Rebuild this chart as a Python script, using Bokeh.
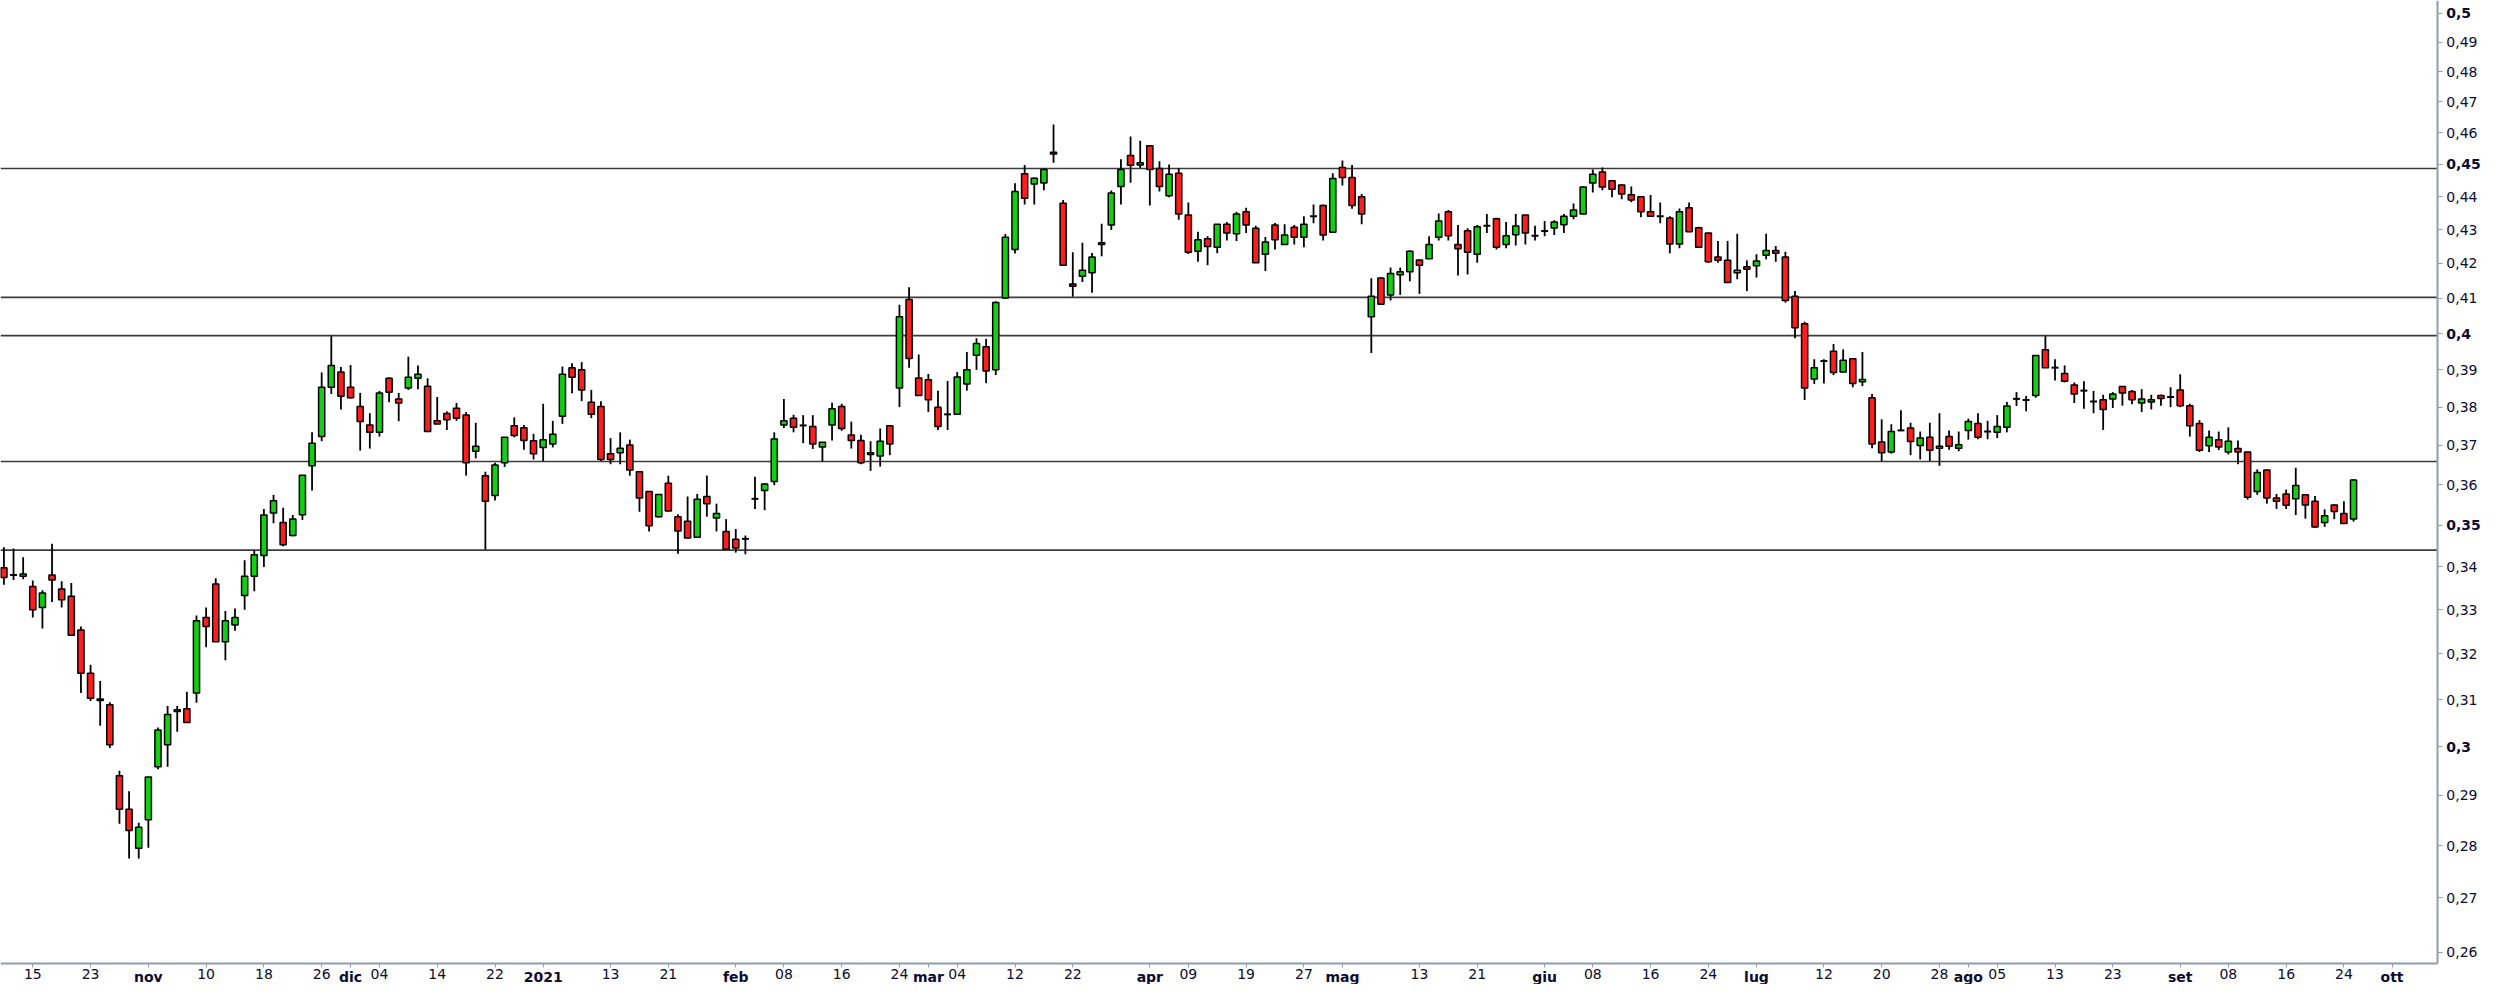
import numpy as np
import pandas as pd
from bokeh.plotting import figure
from bokeh.models import Range1d, FixedTicker, LinearAxis, LogAxis
from bokeh.embed import file_html
from bokeh.resources import INLINE

# ---------------- data ----------------
holidays = ["2020-12-24", "2020-12-25", "2020-12-31", "2021-01-01", "2021-04-02", "2021-04-05"]
trading_days = [d.strftime("%Y-%m-%d") for d in pd.bdate_range("2020-10-12", "2021-10-01")
                if d.strftime("%Y-%m-%d") not in holidays]

open_ = [
    0.3398, 0.3381, 0.3378, 0.3354, 0.3305, 0.3381, 0.3348, 0.3331, 0.3254, 0.3157,
    0.3098, 0.3089, 0.2940, 0.2872, 0.2795, 0.2851, 0.2958, 0.3004, 0.3074, 0.3080,
    0.3114, 0.3282, 0.3360, 0.3227, 0.3265, 0.3333, 0.3378, 0.3427, 0.3530, 0.3507,
    0.3475, 0.3526, 0.3648, 0.3723, 0.3853, 0.3894, 0.3853, 0.3802, 0.3753, 0.3734,
    0.3877, 0.3822, 0.3851, 0.3877, 0.3856, 0.3764, 0.3783, 0.3797, 0.3779, 0.3685,
    0.3623, 0.3573, 0.3656, 0.3751, 0.3746, 0.3712, 0.3695, 0.3704, 0.3776, 0.3906,
    0.3900, 0.3813, 0.3802, 0.3679, 0.3681, 0.3701, 0.3633, 0.3583, 0.3521, 0.3604,
    0.3521, 0.3510, 0.3471, 0.3571, 0.3518, 0.3485, 0.3466, 0.3467, 0.3565, 0.3586,
    0.3608, 0.3753, 0.3771, 0.3752, 0.3749, 0.3696, 0.3753, 0.3802, 0.3727, 0.3713,
    0.3677, 0.3673, 0.3751, 0.3851, 0.4096, 0.3878, 0.3873, 0.3800, 0.3781, 0.3781,
    0.3862, 0.3940, 0.3963, 0.3900, 0.4100, 0.4241, 0.4471, 0.4439, 0.4442, 0.4538,
    0.4380, 0.4140, 0.4163, 0.4173, 0.4256, 0.4314, 0.4431, 0.4528, 0.4498, 0.4559,
    0.4487, 0.4403, 0.4472, 0.4344, 0.4236, 0.4273, 0.4248, 0.4316, 0.4288, 0.4354,
    0.4304, 0.4227, 0.4314, 0.4256, 0.4307, 0.4277, 0.4340, 0.4373, 0.4292, 0.4490,
    0.4459, 0.4400, 0.4047, 0.4158, 0.4109, 0.4167, 0.4176, 0.4210, 0.4214, 0.4277,
    0.4354, 0.4256, 0.4297, 0.4227, 0.4312, 0.4333, 0.4256, 0.4285, 0.4344, 0.4282,
    0.4296, 0.4305, 0.4315, 0.4340, 0.4347, 0.4442, 0.4476, 0.4449, 0.4436, 0.4406,
    0.4400, 0.4354, 0.4340, 0.4335, 0.4257, 0.4366, 0.4306, 0.4290, 0.4219, 0.4209,
    0.4173, 0.4190, 0.4193, 0.4224, 0.4238, 0.4219, 0.4105, 0.4027, 0.3875, 0.3924,
    0.3951, 0.3894, 0.3930, 0.3868, 0.3825, 0.3709, 0.3683, 0.3739, 0.3745, 0.3700,
    0.3721, 0.3693, 0.3723, 0.3693, 0.3739, 0.3757, 0.3736, 0.3734, 0.3747, 0.3822,
    0.3819, 0.3831, 0.3955, 0.3906, 0.3890, 0.3859, 0.3844, 0.3815, 0.3820, 0.3822,
    0.3855, 0.3842, 0.3811, 0.3814, 0.3831, 0.3827, 0.3846, 0.3804, 0.3757, 0.3699,
    0.3715, 0.3683, 0.3692, 0.3683, 0.3583, 0.3637, 0.3567, 0.3577, 0.3565, 0.3575,
    0.3559, 0.3507, 0.3550, 0.3529, 0.3515,
]
high = [
    0.3447, 0.3444, 0.3423, 0.3368, 0.3345, 0.3455, 0.3366, 0.3362, 0.3262, 0.3176,
    0.3140, 0.3094, 0.2950, 0.2908, 0.2845, 0.2937, 0.3040, 0.3086, 0.3086, 0.3117,
    0.3287, 0.3305, 0.3373, 0.3297, 0.3303, 0.3416, 0.3439, 0.3540, 0.3575, 0.3543,
    0.3525, 0.3624, 0.3734, 0.3893, 0.3994, 0.3908, 0.3913, 0.3838, 0.3784, 0.3843,
    0.3880, 0.3838, 0.3936, 0.3912, 0.3877, 0.3827, 0.3789, 0.3811, 0.3787, 0.3759,
    0.3633, 0.3656, 0.3722, 0.3773, 0.3753, 0.3730, 0.3809, 0.3764, 0.3909, 0.3918,
    0.3921, 0.3846, 0.3816, 0.3719, 0.3734, 0.3715, 0.3634, 0.3584, 0.3577, 0.3623,
    0.3527, 0.3571, 0.3577, 0.3623, 0.3553, 0.3515, 0.3491, 0.3475, 0.3620, 0.3604,
    0.3734, 0.3822, 0.3780, 0.3779, 0.3779, 0.3709, 0.3812, 0.3809, 0.3762, 0.3728,
    0.3711, 0.3744, 0.3753, 0.4081, 0.4131, 0.3942, 0.3889, 0.3844, 0.3870, 0.3894,
    0.3949, 0.3987, 0.3985, 0.4091, 0.4287, 0.4441, 0.4498, 0.4459, 0.4487, 0.4627,
    0.4390, 0.4233, 0.4261, 0.4231, 0.4318, 0.4419, 0.4516, 0.4588, 0.4575, 0.4560,
    0.4510, 0.4500, 0.4489, 0.4382, 0.4294, 0.4280, 0.4317, 0.4323, 0.4354, 0.4366,
    0.4312, 0.4278, 0.4320, 0.4316, 0.4314, 0.4340, 0.4376, 0.4376, 0.4472, 0.4512,
    0.4498, 0.4408, 0.4157, 0.4159, 0.4188, 0.4188, 0.4239, 0.4211, 0.4280, 0.4349,
    0.4359, 0.4314, 0.4304, 0.4314, 0.4347, 0.4336, 0.4323, 0.4347, 0.4345, 0.4312,
    0.4326, 0.4328, 0.4347, 0.4379, 0.4431, 0.4484, 0.4490, 0.4450, 0.4437, 0.4431,
    0.4401, 0.4405, 0.4382, 0.4340, 0.4364, 0.4382, 0.4309, 0.4291, 0.4266, 0.4266,
    0.4288, 0.4209, 0.4227, 0.4288, 0.4251, 0.4234, 0.4120, 0.4033, 0.3929, 0.3929,
    0.3971, 0.3956, 0.3931, 0.3949, 0.3835, 0.3768, 0.3755, 0.3792, 0.3759, 0.3736,
    0.3759, 0.3784, 0.3739, 0.3736, 0.3770, 0.3784, 0.3764, 0.3779, 0.3814, 0.3840,
    0.3830, 0.3940, 0.3994, 0.3929, 0.3912, 0.3866, 0.3869, 0.3843, 0.3833, 0.3840,
    0.3856, 0.3846, 0.3848, 0.3833, 0.3833, 0.3853, 0.3888, 0.3809, 0.3766, 0.3739,
    0.3736, 0.3747, 0.3713, 0.3684, 0.3639, 0.3638, 0.3577, 0.3588, 0.3643, 0.3577,
    0.3572, 0.3539, 0.3551, 0.3559, 0.3614,
]
low = [
    0.3358, 0.3369, 0.3371, 0.3282, 0.3257, 0.3318, 0.3305, 0.3240, 0.3114, 0.3097,
    0.3044, 0.2997, 0.2843, 0.2775, 0.2775, 0.2796, 0.2953, 0.2958, 0.3031, 0.3051,
    0.3093, 0.3215, 0.3227, 0.3186, 0.3252, 0.3300, 0.3343, 0.3400, 0.3505, 0.3449,
    0.3473, 0.3513, 0.3586, 0.3711, 0.3835, 0.3794, 0.3823, 0.3687, 0.3692, 0.3723,
    0.3813, 0.3763, 0.3846, 0.3848, 0.3736, 0.3755, 0.3740, 0.3764, 0.3623, 0.3667,
    0.3441, 0.3561, 0.3645, 0.3721, 0.3689, 0.3664, 0.3660, 0.3695, 0.3756, 0.3837,
    0.3816, 0.3771, 0.3660, 0.3652, 0.3652, 0.3623, 0.3533, 0.3485, 0.3519, 0.3534,
    0.3431, 0.3468, 0.3469, 0.3521, 0.3485, 0.3441, 0.3434, 0.3430, 0.3540, 0.3537,
    0.3599, 0.3745, 0.3734, 0.3706, 0.3691, 0.3659, 0.3713, 0.3738, 0.3692, 0.3652,
    0.3635, 0.3646, 0.3675, 0.3800, 0.3906, 0.3830, 0.3787, 0.3740, 0.3740, 0.3780,
    0.3844, 0.3900, 0.3864, 0.3886, 0.4098, 0.4229, 0.4376, 0.4376, 0.4420, 0.4505,
    0.4193, 0.4104, 0.4146, 0.4115, 0.4221, 0.4299, 0.4376, 0.4443, 0.4489, 0.4373,
    0.4416, 0.4398, 0.4330, 0.4228, 0.4205, 0.4195, 0.4230, 0.4268, 0.4266, 0.4290,
    0.4201, 0.4178, 0.4241, 0.4255, 0.4256, 0.4248, 0.4319, 0.4268, 0.4290, 0.4434,
    0.4363, 0.4316, 0.3946, 0.4081, 0.4093, 0.4109, 0.4148, 0.4112, 0.4213, 0.4268,
    0.4268, 0.4165, 0.4168, 0.4202, 0.4290, 0.4241, 0.4245, 0.4253, 0.4256, 0.4268,
    0.4280, 0.4284, 0.4290, 0.4331, 0.4346, 0.4413, 0.4420, 0.4398, 0.4392, 0.4383,
    0.4337, 0.4339, 0.4319, 0.4230, 0.4245, 0.4293, 0.4247, 0.4202, 0.4202, 0.4144,
    0.4154, 0.4120, 0.4159, 0.4212, 0.4205, 0.4087, 0.3987, 0.3819, 0.3862, 0.3863,
    0.3886, 0.3893, 0.3853, 0.3856, 0.3693, 0.3660, 0.3679, 0.3738, 0.3675, 0.3664,
    0.3660, 0.3648, 0.3689, 0.3685, 0.3715, 0.3716, 0.3716, 0.3719, 0.3734, 0.3803,
    0.3789, 0.3825, 0.3905, 0.3871, 0.3866, 0.3811, 0.3796, 0.3784, 0.3740, 0.3798,
    0.3804, 0.3808, 0.3787, 0.3794, 0.3804, 0.3800, 0.3800, 0.3723, 0.3683, 0.3683,
    0.3688, 0.3677, 0.3652, 0.3563, 0.3575, 0.3553, 0.3540, 0.3540, 0.3525, 0.3516,
    0.3494, 0.3496, 0.3515, 0.3503, 0.3509,
]
close = [
    0.3375, 0.3381, 0.3383, 0.3300, 0.3339, 0.3369, 0.3323, 0.3242, 0.3157, 0.3103,
    0.3101, 0.3004, 0.2872, 0.2830, 0.2836, 0.2937, 0.3035, 0.3068, 0.3078, 0.3051,
    0.3275, 0.3262, 0.3227, 0.3275, 0.3282, 0.3378, 0.3429, 0.3525, 0.3560, 0.3453,
    0.3515, 0.3624, 0.3706, 0.3853, 0.3912, 0.3829, 0.3825, 0.3762, 0.3734, 0.3838,
    0.3840, 0.3811, 0.3880, 0.3888, 0.3736, 0.3756, 0.3767, 0.3771, 0.3656, 0.3698,
    0.3559, 0.3650, 0.3721, 0.3726, 0.3713, 0.3679, 0.3715, 0.3729, 0.3888, 0.3880,
    0.3846, 0.3781, 0.3664, 0.3664, 0.3693, 0.3637, 0.3567, 0.3499, 0.3576, 0.3535,
    0.3486, 0.3469, 0.3564, 0.3553, 0.3529, 0.3442, 0.3445, 0.3467, 0.3565, 0.3602,
    0.3717, 0.3764, 0.3747, 0.3752, 0.3704, 0.3708, 0.3796, 0.3744, 0.3713, 0.3656,
    0.3681, 0.3711, 0.3704, 0.4047, 0.3931, 0.3831, 0.3820, 0.3749, 0.3781, 0.3881,
    0.3900, 0.3972, 0.3897, 0.4087, 0.4277, 0.4416, 0.4395, 0.4457, 0.4484, 0.4533,
    0.4195, 0.4134, 0.4180, 0.4219, 0.4261, 0.4411, 0.4484, 0.4497, 0.4505, 0.4484,
    0.4431, 0.4469, 0.4347, 0.4233, 0.4270, 0.4250, 0.4316, 0.4290, 0.4347, 0.4314,
    0.4202, 0.4263, 0.4270, 0.4284, 0.4277, 0.4316, 0.4340, 0.4284, 0.4456, 0.4459,
    0.4373, 0.4347, 0.4105, 0.4082, 0.4171, 0.4176, 0.4236, 0.4195, 0.4256, 0.4326,
    0.4282, 0.4243, 0.4233, 0.4309, 0.4312, 0.4248, 0.4282, 0.4311, 0.4290, 0.4282,
    0.4296, 0.4323, 0.4340, 0.4359, 0.4430, 0.4469, 0.4430, 0.4423, 0.4408, 0.4390,
    0.4354, 0.4340, 0.4340, 0.4257, 0.4354, 0.4294, 0.4248, 0.4205, 0.4209, 0.4145,
    0.4180, 0.4183, 0.4207, 0.4238, 0.4230, 0.4093, 0.4016, 0.3851, 0.3906, 0.3924,
    0.3893, 0.3926, 0.3863, 0.3874, 0.3704, 0.3681, 0.3736, 0.3739, 0.3710, 0.3719,
    0.3688, 0.3698, 0.3698, 0.3702, 0.3762, 0.3721, 0.3736, 0.3749, 0.3803, 0.3822,
    0.3819, 0.3939, 0.3906, 0.3906, 0.3869, 0.3835, 0.3844, 0.3815, 0.3794, 0.3835,
    0.3838, 0.3820, 0.3822, 0.3820, 0.3823, 0.3827, 0.3804, 0.3751, 0.3688, 0.3721,
    0.3696, 0.3711, 0.3683, 0.3569, 0.3631, 0.3567, 0.3559, 0.3549, 0.3598, 0.3550,
    0.3496, 0.3523, 0.3534, 0.3504, 0.3612,
]

# horizontal support / resistance lines
levels = [0.4487, 0.4102, 0.3994, 0.3659, 0.3440]

# axis ticks
day_tick_dates = ["2020-10-15", "2020-10-23", "2020-11-10", "2020-11-18", "2020-11-26",
                  "2020-12-04", "2020-12-14", "2020-12-22", "2021-01-13", "2021-01-21",
                  "2021-02-08", "2021-02-16", "2021-02-24", "2021-03-04", "2021-03-12",
                  "2021-03-22", "2021-04-09", "2021-04-19", "2021-04-27", "2021-05-13",
                  "2021-05-21", "2021-06-08", "2021-06-16", "2021-06-24", "2021-07-12",
                  "2021-07-20", "2021-07-28", "2021-08-05", "2021-08-13", "2021-08-23",
                  "2021-09-08", "2021-09-16", "2021-09-24"]
month_tick_dates = ["2020-11-02", "2020-12-01", "2021-01-04", "2021-02-01", "2021-03-01",
                    "2021-04-01", "2021-05-03", "2021-06-01", "2021-07-01", "2021-08-02",
                    "2021-09-01", "2021-10-01"]
month_names = ["nov", "dic", "2021", "feb", "mar", "apr", "mag", "giu", "lug", "ago", "set", "ott"]

y_ticks = [round(0.26 + 0.01 * k, 2) for k in range(25)]
y_bold = [0.30, 0.35, 0.40, 0.45, 0.50]

# ---------------- figure ----------------
# the frame covers the whole canvas; the axes sit at fixed data positions inside it
XS, XE = -0.353, 257.6      # frame x extent (trading-day index)
X1 = 252.7                  # position of the price axis
YS, YE = 0.2542, 0.5044     # frame y extent (price, log)
Y0 = 0.2580                 # position of the date axis
GREEN = "#10d010"
RED = "#ff1c1c"
TXT = "#0b0b30"
AX = "#8d9dad"
FONT = "DejaVu Sans"

p = figure(width=2484, height=984, y_axis_type="log",
           x_range=Range1d(XS, XE), y_range=Range1d(YS, YE),
           y_axis_location="right", output_backend="svg", toolbar_location=None,
           min_border=0)
p.outline_line_color = None
p.xgrid.visible = False
p.ygrid.visible = False
p.background_fill_color = "white"

o = np.array(open_)
h = np.array(high)
l = np.array(low)
c = np.array(close)
idx = np.arange(len(o))
up = c > o
dn = c < o
dj = c == o

p.segment(x0=XS, x1=X1, y0=levels, y1=levels, line_color="#3c3c3c", line_width=1.6)

p.segment(x0=idx, y0=l, x1=idx, y1=h, line_color="black", line_width=1.8)
p.vbar(x=idx[up], width=0.64, bottom=o[up], top=c[up], fill_color=GREEN,
       line_color="black", line_width=1.5)
p.vbar(x=idx[dn], width=0.64, bottom=c[dn], top=o[dn], fill_color=RED,
       line_color="black", line_width=1.5)
p.segment(x0=idx[dj] - 0.36, x1=idx[dj] + 0.36, y0=o[dj], y1=c[dj],
          line_color="black", line_width=2)


def fmt(v):
    return ("%.2f" % v).rstrip("0").replace(".", ",")


def style_axis(ax, tick_out, standoff, size, bold):
    ax.major_tick_line_color = AX
    ax.major_tick_out = tick_out
    ax.major_tick_in = 0
    ax.minor_tick_line_color = None
    ax.major_label_standoff = standoff
    ax.major_label_text_font = FONT
    ax.major_label_text_font_size = size
    ax.major_label_text_color = TXT
    ax.major_label_text_font_style = "bold" if bold else "normal"


# price axis (right): normal labels
yax = p.yaxis[0]
yax.fixed_location = X1
yax.bounds = (Y0, YE)
yax.ticker = FixedTicker(ticks=[v for v in y_ticks if v not in y_bold])
yax.major_label_overrides = {v: fmt(v) for v in y_ticks if v not in y_bold}
yax.axis_line_color = AX
yax.axis_line_width = 2
style_axis(yax, 5, 4, "14px", False)

# price axis (right): bold labels
yb = LogAxis(fixed_location=X1, bounds=(Y0, YE), ticker=FixedTicker(ticks=y_bold),
             major_label_overrides={v: fmt(v) for v in y_bold})
yb.axis_line_color = None
style_axis(yb, 5, 4, "14px", True)
p.add_layout(yb, "right")

# date axis (below): day numbers
pos = {d: i for i, d in enumerate(trading_days)}
day_idx = [pos[d] for d in day_tick_dates]
mon_idx = [pos[d] for d in month_tick_dates]
xax = p.xaxis[0]
xax.fixed_location = Y0
xax.bounds = (XS, X1)
xax.ticker = FixedTicker(ticks=day_idx)
xax.major_label_overrides = {i: d[-2:] for i, d in zip(day_idx, day_tick_dates)}
xax.axis_line_color = AX
xax.axis_line_width = 2
style_axis(xax, 4, 2, "14px", False)

# date axis (below): bold month names on the same row
xm = LinearAxis(fixed_location=Y0, bounds=(XS, X1), ticker=FixedTicker(ticks=mon_idx),
                major_label_overrides={i: n for i, n in zip(mon_idx, month_names)})
xm.axis_line_color = None
style_axis(xm, 4, 2, "14px", True)
p.add_layout(xm, "below")

open("out.html", "w").write(file_html(p, INLINE))
